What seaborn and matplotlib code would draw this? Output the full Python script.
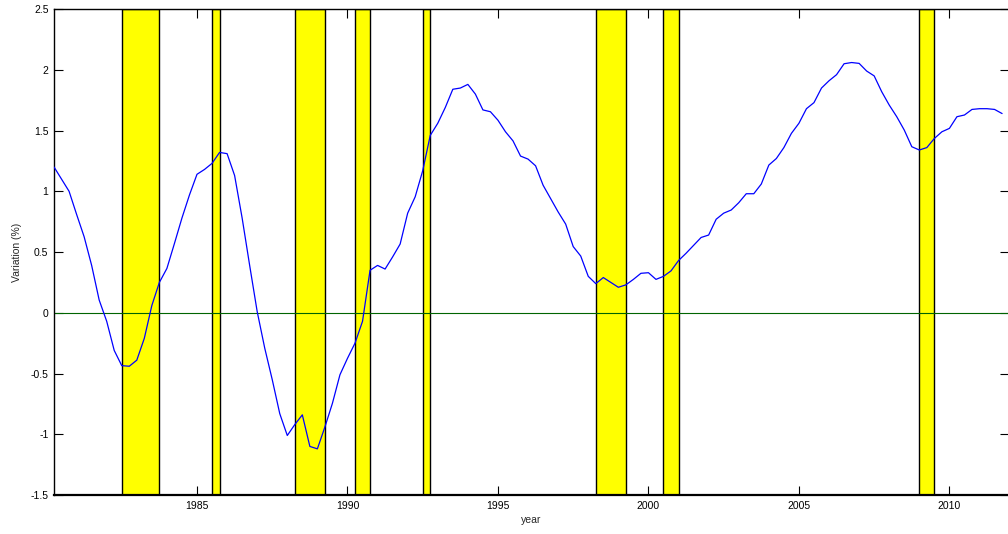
import numpy as np
import pandas as pd
import matplotlib
matplotlib.use("Agg")
import matplotlib.pyplot as plt
import seaborn as sns

# Quarterly series starting 1980 Q2
start_year = 1980.25
values = [
    1.20, 1.10, 1.00, 0.81, 0.626, 0.39, 0.105, -0.07, -0.31, -0.435,
    -0.44, -0.39, -0.21, 0.06, 0.25, 0.365, 0.57, 0.78, 0.97, 1.14,
    1.18, 1.23, 1.32, 1.31, 1.13, 0.78, 0.39, 0.01, -0.29, -0.55,
    -0.83, -1.01, -0.92, -0.84, -1.10, -1.12, -0.94, -0.745, -0.51, -0.375,
    -0.25, -0.07, 0.35, 0.39, 0.36, 0.46, 0.566, 0.82, 0.955, 1.17,
    1.46, 1.56, 1.69, 1.84, 1.85, 1.88, 1.80, 1.67, 1.655, 1.585,
    1.49, 1.415, 1.29, 1.265, 1.21, 1.05, 0.94, 0.83, 0.73, 0.545,
    0.467, 0.30, 0.24, 0.29, 0.25, 0.21, 0.23, 0.275, 0.325, 0.33,
    0.275, 0.30, 0.345, 0.43, 0.49, 0.555, 0.62, 0.64, 0.77, 0.82,
    0.846, 0.906, 0.98, 0.98, 1.06, 1.216, 1.27, 1.36, 1.477, 1.56,
    1.68, 1.73, 1.85, 1.91, 1.96, 2.05, 2.06, 2.053, 1.99, 1.95,
    1.82, 1.71, 1.614, 1.504, 1.367, 1.34, 1.36, 1.435, 1.49, 1.518,
    1.614, 1.628, 1.674, 1.68, 1.68, 1.674, 1.64,
]
years = [start_year + 0.25 * i for i in range(len(values))]

# Shaded periods (start, end)
band_starts = [1982.5, 1985.5, 1988.25, 1990.25, 1992.5, 1998.25, 2000.5, 2009.0]
band_ends   = [1983.75, 1985.75, 1989.25, 1990.75, 1992.75, 1999.25, 2001.0, 2009.5]

x_ticks = [1985, 1990, 1995, 2000, 2005, 2010]
y_ticks = [-1.5, -1, -0.5, 0, 0.5, 1, 1.5, 2, 2.5]
y_tick_labels = ["-1.5", "-1", "-0.5", "0", "0.5", "1", "1.5", "2", "2.5"]

sns.set_style("ticks")
plt.rcParams['font.family'] = ['Liberation Sans', 'DejaVu Sans']

fig = plt.figure(figsize=(10.08, 5.34), dpi=100)
ax = fig.add_axes([0.0536, 0.073, 0.9474, 0.910])

for s, e in zip(band_starts, band_ends):
    ax.axvspan(s, e, facecolor='#ffff00', edgecolor='black', linewidth=1.0, zorder=1)

ax.axhline(0, color='#006400', linewidth=0.8, zorder=2)

df = pd.DataFrame({"year": years, "value": values})
sns.lineplot(data=df, x="year", y="value", ax=ax, color='#0000ff', linewidth=0.9, zorder=3)

ax.set_xlim(1980.25, 2011.98)
ax.set_ylim(-1.5, 2.5)
ax.set_xticks(x_ticks)
ax.set_xticklabels([str(t) for t in x_ticks])
ax.set_yticks(y_ticks)
ax.set_yticklabels(y_tick_labels)
ax.tick_params(direction='in', length=6.5, width=0.8, labelsize=7.5, top=True, right=True, pad=4,
               colors='black')
ax.set_xlabel("year", fontsize=7.5, labelpad=3)
ax.set_ylabel("Variation (%)", fontsize=7.5, labelpad=6)
for sp in ax.spines.values():
    sp.set_visible(True)
    sp.set_linewidth(1.0)
    sp.set_color('black')
ax.spines['bottom'].set_linewidth(1.6)

fig.savefig("out.png", dpi=100)
